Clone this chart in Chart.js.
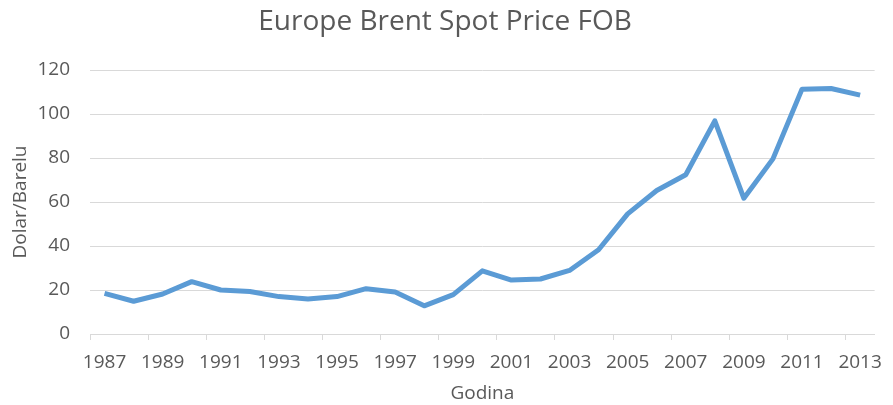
<!DOCTYPE html>
<html>
<head>
<meta charset="utf-8">
<script src="https://cdn.jsdelivr.net/npm/chart.js@4"></script>
<style>
  html, body { margin: 0; padding: 0; background: #ffffff; }
  #wrap { width: 893px; height: 405px; }
</style>
</head>
<body>
<div id="wrap"><canvas id="c" width="893" height="405"></canvas></div>
<script>
const years = ['1987','1988','1989','1990','1991','1992','1993','1994','1995','1996','1997','1998','1999','2000','2001','2002','2003','2004','2005','2006','2007','2008','2009','2010','2011','2012','2013'];
const brentPrice = [18.5, 14.9, 18.2, 23.8, 20.0, 19.3, 17.0, 15.9, 17.0, 20.6, 19.1, 12.8, 17.9, 28.7, 24.5, 25.0, 28.9, 38.3, 54.6, 65.2, 72.4, 96.9, 61.7, 79.6, 111.3, 111.6, 108.6];
const xTickLabels = ['1987','1989','1991','1993','1995','1997','1999','2001','2003','2005','2007','2009','2011','2013'];
const yTicks = [0, 20, 40, 60, 80, 100, 120];

const FONT = "'Open Sans', 'Liberation Sans', sans-serif";
const TEXT = '#595959';
const GRID = '#d9d9d9';

new Chart(document.getElementById('c'), {
  type: 'line',
  data: {
    labels: years,
    datasets: [{
      label: 'Europe Brent Spot Price FOB',
      data: brentPrice,
      borderColor: '#5b9bd5',
      backgroundColor: '#5b9bd5',
      borderWidth: 5,
      pointRadius: 0,
      pointHoverRadius: 0,
      tension: 0,
      borderJoinStyle: 'round',
      borderCapStyle: 'butt',
      fill: false
    }]
  },
  options: {
    responsive: false,
    devicePixelRatio: 1,
    animation: false,
    layout: { padding: { left: 5, right: 8, top: 0, bottom: 0 } },
    plugins: {
      legend: { display: false },
      tooltip: { enabled: false },
      title: {
        display: true,
        text: 'Europe Brent Spot Price FOB',
        color: TEXT,
        font: { family: FONT, size: 28, weight: 'normal', lineHeight: 1.2 },
        padding: { top: 5, bottom: 31.4 }
      }
    },
    scales: {
      x: {
        type: 'category',
        offset: true,
        afterFit(scale) { scale.height = 71; },
        grid: {
          offset: true,
          drawOnChartArea: false,
          drawTicks: true,
          tickLength: 6,
          lineWidth: 1,
          color: (ctx) => (ctx.index !== undefined && ctx.index % 2 === 0) ? GRID : 'rgba(0,0,0,0)'
        },
        border: { display: true, color: GRID, width: 1 },
        ticks: {
          autoSkip: false,
          maxRotation: 0,
          minRotation: 0,
          padding: 11,
          color: TEXT,
          font: { family: FONT, size: 19 },
          callback: function(value, index) {
            const lab = this.getLabelForValue(value);
            return xTickLabels.includes(lab) ? lab : '';
          }
        },
        title: {
          display: true,
          text: 'Godina',
          color: TEXT,
          font: { family: FONT, size: 19 },
          padding: { top: 4, bottom: 0 }
        }
      },
      y: {
        min: 0,
        max: 120,
        afterFit(scale) { scale.width = 85; },
        afterBuildTicks(scale) { scale.ticks = yTicks.map(v => ({ value: v })); },
        grid: { color: GRID, lineWidth: 1, drawTicks: false },
        border: { display: false },
        ticks: {
          padding: 20,
          color: TEXT,
          font: { family: FONT, size: 19 }
        },
        title: {
          display: true,
          text: 'Dolar/Barelu',
          color: TEXT,
          font: { family: FONT, size: 19 },
          padding: { top: 4, bottom: 4 }
        }
      }
    }
  }
});
</script>
</body>
</html>
